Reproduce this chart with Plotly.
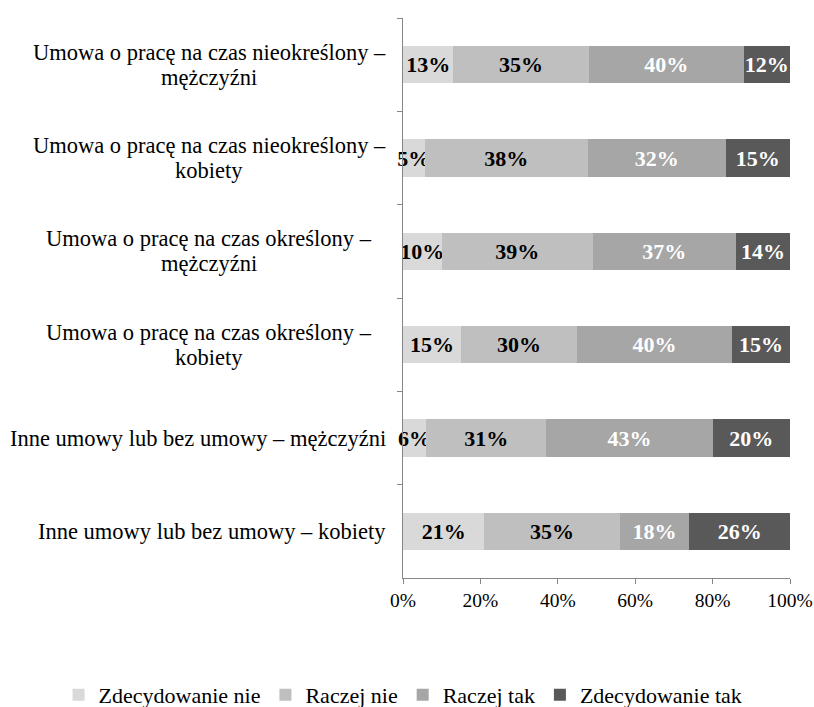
import plotly.graph_objects as go

categories = [
    "Umowa o pracę na czas nieokreślony –<br>mężczyźni",
    "Umowa o pracę na czas nieokreślony –<br>kobiety",
    "Umowa o pracę na czas określony –<br>mężczyźni",
    "Umowa o pracę na czas określony –<br>kobiety",
    "Inne umowy lub bez umowy – mężczyźni",
    "Inne umowy lub bez umowy – kobiety",
]
series_names = ["Zdecydowanie nie", "Raczej nie", "Raczej tak", "Zdecydowanie tak"]
zdecydowanie_nie = [13, 5, 10, 15, 6, 21]
raczej_nie = [35, 38, 39, 30, 31, 35]
raczej_tak = [40, 32, 37, 40, 43, 18]
zdecydowanie_tak = [12, 15, 14, 15, 20, 26]
x_ticks = [0, 20, 40, 60, 80, 100]
x_tick_labels = ["0%", "20%", "40%", "60%", "80%", "100%"]

series_values = [zdecydowanie_nie, raczej_nie, raczej_tak, zdecydowanie_tak]
# 100% stacked: each row is normalised by its total
row_totals = [sum(col) for col in zip(*series_values)]

colors = ["#d9d9d9", "#bfbfbf", "#a6a6a6", "#595959"]
text_colors = ["black", "black", "white", "white"]
FONT = "Liberation Serif, Times New Roman, serif"
LINE_H = 25

fig = go.Figure()
for name, vals, col, tcol in zip(series_names, series_values, colors, text_colors):
    shares = [v / t * 100 for v, t in zip(vals, row_totals)]
    fig.add_trace(go.Bar(
        y=categories, x=shares, orientation="h", name=name,
        marker=dict(color=col, line=dict(width=0)),
        text=[f"{v}%" for v in vals],
        texttemplate="<b>%{text}</b>",
        textposition="inside", insidetextanchor="middle",
        constraintext="none", textangle=0,
        textfont=dict(family=FONT, size=22, color=tcol),
        cliponaxis=False,
    ))

# category labels (centered lines, tight line spacing)
for c in categories:
    lines = c.split("<br>")
    n = len(lines)
    for i, ln in enumerate(lines):
        if n > 1:
            anchor, shift = "center", -194
        else:
            anchor, shift = "right", -15
        fig.add_annotation(
            x=0, xref="paper", xanchor=anchor, xshift=shift,
            y=c, yref="y", yshift=((n - 1) / 2 - i) * LINE_H,
            text=ln, showarrow=False, align="center",
            font=dict(family=FONT, size=22.5, color="black"),
        )

fig.update_layout(
    barmode="stack", bargap=0.6,
    width=814, height=707,
    margin=dict(l=403, r=24, t=18, b=129, autoexpand=False),
    plot_bgcolor="white", paper_bgcolor="white",
    font=dict(family=FONT, size=20, color="black"),
    showlegend=True,
    legend=dict(
        orientation="h", xref="paper", x=-0.89, xanchor="left",
        yref="paper", y=-0.209, yanchor="middle",
        font=dict(family=FONT, size=22, color="black"),
        traceorder="normal", bgcolor="rgba(0,0,0,0)",
    ),
)
fig.update_xaxes(
    range=[0, 100], tickvals=x_ticks, ticktext=x_tick_labels,
    showgrid=False, zeroline=False, showline=True, linecolor="#868686",
    linewidth=1, ticks="outside", ticklen=5, tickcolor="#868686",
    tickfont=dict(family=FONT, size=19.5, color="black"),
)
fig.update_yaxes(
    autorange="reversed", showticklabels=False, showgrid=False,
    showline=True, linecolor="#868686", linewidth=1,
    ticks="outside", ticklen=5, tickcolor="#868686", tickson="boundaries",
)

fig.write_html("out.html", config={"displayModeBar": False},
               post_script="document.body.style.margin='0';")
